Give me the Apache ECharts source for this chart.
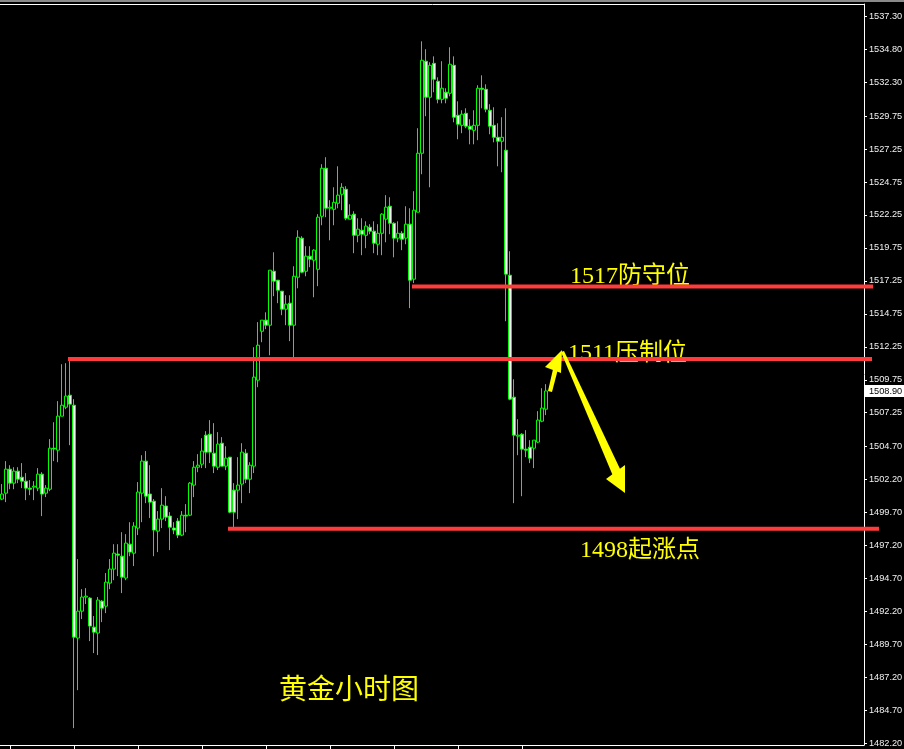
<!DOCTYPE html>
<html><head><meta charset="utf-8">
<script src="https://cdn.jsdelivr.net/npm/echarts@6/dist/echarts.min.js"></script>
<style>html,body{margin:0;padding:0;background:#000;}#c{width:904px;height:749px;}</style>
</head><body><div id="c"></div>
<script>
// ---- DATA (hourly gold candles) ----
const opens = [1500.70,1501.15,1502.97,1501.91,1502.82,1502.36,1502.06,1501.53,1501.61,1501.53,
1502.59,1501.15,1501.45,1504.56,1504.41,1506.99,1507.67,1508.58,1507.82,1490.16,
1492.20,1493.27,1493.19,1490.99,1490.54,1492.96,1492.58,1494.33,1495.39,1496.53,
1496.37,1494.71,1497.28,1496.60,1498.50,1501.15,1503.58,1501.08,1500.54,1498.27,
1499.18,1500.17,1499.41,1498.50,1499.03,1497.97,1499.48,1499.48,1501.76,1503.12,
1503.35,1505.55,1505.62,1504.18,1503.12,1504.94,1503.20,1503.88,1501.38,1501.38,
1501.84,1504.18,1502.21,1503.20,1509.72,1513.43,1514.27,1513.89,1517.98,1517.30,
1516.47,1515.10,1515.56,1513.89,1517.53,1520.49,1517.98,1519.12,1518.82,1518.13,
1522.15,1525.79,1522.76,1522.68,1523.14,1523.82,1524.20,1521.93,1522.31,1520.71,
1521.09,1520.71,1521.32,1521.02,1520.03,1520.86,1521.93,1522.91,1521.62,1520.49,
1520.86,1520.49,1521.55,1517.38,1522.46,1526.93,1533.91,1531.18,1533.75,1532.39,
1531.02,1531.56,1531.48,1533.60,1529.81,1529.05,1529.96,1528.98,1528.67,1529.05,
1531.86,1531.78,1530.19,1529.05,1528.14,1527.84,1527.16,1517.68,1508.43,1505.47,
1505.62,1504.49,1504.64,1504.56,1505.02,1506.61,1507.52];
const closes = [1501.08,1502.97,1501.91,1502.82,1502.21,1502.06,1501.53,1501.45,1501.68,1502.59,
1501.08,1501.53,1504.56,1504.50,1506.99,1507.82,1508.51,1507.90,1490.23,1492.20,
1493.27,1493.34,1491.07,1490.61,1493.04,1492.43,1494.40,1495.39,1496.60,1496.45,
1494.78,1497.36,1496.68,1498.65,1501.23,1503.58,1500.92,1500.47,1498.35,1499.18,
1500.24,1499.33,1498.57,1498.35,1497.97,1499.48,1499.41,1501.91,1503.12,1503.27,
1504.34,1504.26,1504.26,1503.20,1504.87,1503.20,1503.80,1499.71,1499.71,1501.76,
1504.26,1502.21,1503.27,1509.95,1512.37,1514.27,1513.89,1518.06,1517.23,1516.54,
1515.10,1515.48,1513.89,1517.60,1520.56,1517.91,1519.12,1518.89,1519.58,1522.08,
1525.79,1522.76,1522.84,1523.21,1523.75,1524.35,1522.00,1522.23,1520.71,1521.17,
1520.79,1521.40,1521.02,1520.11,1520.86,1522.31,1522.84,1521.62,1520.49,1520.86,
1520.41,1521.55,1517.30,1522.61,1526.93,1533.98,1531.18,1533.60,1532.54,1531.02,
1531.86,1531.10,1533.68,1529.66,1529.13,1529.89,1528.98,1528.75,1529.05,1531.86,
1531.78,1530.27,1528.98,1528.14,1527.84,1528.14,1517.76,1508.28,1505.55,1505.55,
1504.49,1504.41,1503.80,1505.17,1506.69,1507.60,1508.90];
const lows = [1500.62,1500.47,1501.45,1501.45,1501.91,1501.53,1500.62,1501.00,1500.62,1501.30,
1499.41,1500.85,1501.30,1503.58,1503.50,1506.99,1507.52,1504.79,1483.33,1486.21,
1491.60,1492.74,1489.93,1489.02,1488.87,1491.37,1492.05,1493.87,1494.55,1494.86,
1493.57,1494.55,1496.37,1495.62,1497.97,1498.95,1500.39,1499.26,1496.37,1496.68,
1498.50,1499.03,1496.83,1498.04,1497.74,1497.89,1498.19,1499.41,1500.85,1502.74,
1503.05,1503.05,1503.43,1502.67,1502.90,1503.20,1502.90,1499.63,1498.57,1499.18,
1500.39,1501.91,1501.15,1502.67,1509.19,1512.60,1513.59,1511.61,1516.09,1515.56,
1514.65,1513.89,1512.68,1511.46,1516.69,1517.83,1517.60,1518.29,1516.01,1516.85,
1521.47,1522.08,1520.33,1521.47,1522.76,1522.61,1521.85,1521.93,1519.35,1520.18,
1519.20,1519.73,1520.79,1519.35,1519.20,1519.20,1520.18,1520.79,1519.04,1520.18,
1519.58,1520.03,1515.18,1517.08,1522.46,1525.34,1529.74,1524.35,1531.56,1530.72,
1530.72,1530.72,1531.25,1529.28,1527.99,1528.45,1528.83,1527.61,1527.61,1527.92,
1530.34,1530.04,1528.37,1527.76,1525.94,1525.49,1514.19,1508.20,1500.39,1504.03,
1500.92,1503.88,1503.43,1503.05,1504.94,1506.53,1507.07];
const highs = [1501.84,1503.58,1503.27,1503.12,1503.12,1503.43,1502.67,1502.14,1502.06,1503.05,
1502.74,1501.76,1505.25,1506.53,1508.13,1510.93,1511.01,1511.16,1508.28,1496.15,
1493.87,1493.95,1493.27,1491.83,1493.27,1493.04,1495.09,1496.15,1497.28,1497.28,
1498.19,1498.04,1498.95,1498.95,1501.99,1504.03,1504.34,1503.27,1500.70,1499.79,
1501.53,1500.92,1499.71,1498.95,1499.26,1499.79,1500.32,1501.99,1503.58,1504.11,
1505.32,1505.85,1506.69,1506.46,1505.78,1505.40,1504.71,1503.88,1501.91,1503.88,
1504.94,1504.49,1503.50,1512.22,1514.12,1514.27,1514.87,1518.06,1519.42,1517.30,
1516.47,1516.16,1516.16,1518.36,1521.09,1520.64,1519.88,1519.88,1519.65,1522.31,
1526.10,1526.63,1523.37,1524.35,1525.94,1524.66,1524.43,1523.06,1522.53,1522.00,
1522.00,1521.77,1521.55,1521.77,1521.55,1522.38,1523.75,1523.59,1521.70,1521.77,
1521.02,1522.91,1522.76,1524.05,1528.83,1535.42,1534.82,1533.83,1534.28,1532.69,
1533.91,1531.86,1534.97,1534.28,1530.87,1530.19,1530.34,1529.51,1530.19,1532.09,
1532.84,1532.16,1530.65,1530.42,1529.20,1529.66,1530.34,1519.50,1509.79,1506.76,
1505.70,1505.93,1505.17,1505.17,1507.37,1509.11,1509.42];
const priceTicks = [1482.20,1484.70,1487.20,1489.70,1492.20,1494.70,1497.20,1499.70,1502.20,1504.70,
1507.25,1509.75,1512.25,1514.75,1517.25,1519.75,1522.25,1524.75,1527.25,1529.75,1532.30,1534.80,1537.30];
const lastPrice = 1508.90;
const levelPrices = [1516.83, 1511.33, 1498.46];
const levelTexts = ['1517防守位', '1511压制位', '1498起涨点'];
const chartTitle = '黄金小时图';
const slotCount = 216; // chart width in bar slots

// ---- BUILD ----
const categories = [];
for (let i = 0; i < slotCount; i++) categories.push(String(i));
const candles = opens.map((o, i) => [o, closes[i], lows[i], highs[i]]);

const chart = echarts.init(document.getElementById('c'), null, {renderer: 'canvas'});
const option = {
  backgroundColor: '#000',
  animation: false,
  grid: {left: 0, right: 40, top: 4, bottom: 4, containLabel: false, outerBoundsMode: 'none'},
  xAxis: {
    type: 'category', data: categories, boundaryGap: true,
    axisLine: {show: true, lineStyle: {color: '#ffffff', width: 1}},
    axisTick: {show: true, alignWithLabel: true, length: 4,
      interval: (i) => i % 16 === 2 && i <= 130, lineStyle: {color: '#ffffff'}},
    axisLabel: {show: false}, splitLine: {show: false}
  },
  yAxis: {
    type: 'value', position: 'right', min: 1482.05, max: 1538.25,
    axisLine: {show: true, lineStyle: {color: '#ffffff', width: 1}},
    axisTick: {show: true, length: 3, customValues: priceTicks, lineStyle: {color: '#ffffff'}},
    axisLabel: {customValues: priceTicks, formatter: (v) => Number(v).toFixed(2),
      color: '#f2f2f2', fontFamily: 'Liberation Sans', fontSize: 9.2, margin: 5},
    splitLine: {show: false}
  },
  series: [{
    type: 'candlestick', data: candles, barWidth: 3,
    itemStyle: {color: '#000000', color0: '#ffffff', borderColor: '#00ff00', borderColor0: '#00ff00', borderWidth: 1}
  }]
};
chart.setOption(option);

// ---- ANNOTATIONS (drawn over the chart) ----
const py = (p) => chart.convertToPixel({yAxisIndex: 0}, p);
const red = '#ff3b3b', yellow = '#ffff00';
const txtFont = "24px 'Liberation Serif', 'Noto Sans CJK SC', serif";
const lineSpans = [[412, 873], [68, 872], [228, 879]];
const textPos = [[570, 277], [568, 354], [580, 551]];
const g = [];
// frame: grey top strip, white top border
g.push({type: 'rect', shape: {x: 0, y: 0, width: 904, height: 2}, style: {fill: '#8a8a8a'}, z: 100});
g.push({type: 'line', shape: {x1: 0, y1: 4.5, x2: 865, y2: 4.5}, style: {stroke: '#ffffff', lineWidth: 1}, z: 100});
// last price box on the price scale
const yLast = Math.round(py(lastPrice));
g.push({type: 'rect', shape: {x: 865, y: yLast - 6, width: 39, height: 12}, style: {fill: '#ffffff'}, z: 100});
g.push({type: 'text', x: 869, y: yLast,
  style: {text: lastPrice.toFixed(2), fill: '#000000', font: "9.2px 'Liberation Sans'", textVerticalAlign: 'middle', textAlign: 'left'}, z: 101});
levelPrices.forEach((p, k) => {
  const y = py(p);
  g.push({type: 'line', shape: {x1: lineSpans[k][0], y1: y, x2: lineSpans[k][1], y2: y},
    style: {stroke: red, lineWidth: 4}, z: 100});
  g.push({type: 'text', x: textPos[k][0], y: textPos[k][1],
    style: {text: levelTexts[k], fill: yellow, font: txtFont, textVerticalAlign: 'middle', textAlign: 'left'}, z: 99});
});
g.push({type: 'text', x: 279, y: 688,
  style: {text: chartTitle, fill: yellow, font: "28px 'Noto Sans CJK SC', serif", textVerticalAlign: 'middle', textAlign: 'left'}, z: 101});
// yellow arrows
g.push({type: 'polygon', shape: {points: [[548, 391], [552, 392], [558, 369], [553.5, 367]]}, style: {fill: yellow}, z: 102});
g.push({type: 'polygon', shape: {points: [[562, 350], [545, 367], [561, 373]]}, style: {fill: yellow}, z: 102});
g.push({type: 'polygon', shape: {points: [[561, 352], [564, 351], [621, 471], [613, 476]]}, style: {fill: yellow}, z: 102});
g.push({type: 'polygon', shape: {points: [[625, 493], [606, 479], [625, 465]]}, style: {fill: yellow}, z: 102});
chart.setOption({graphic: g});
</script>
</body></html>
